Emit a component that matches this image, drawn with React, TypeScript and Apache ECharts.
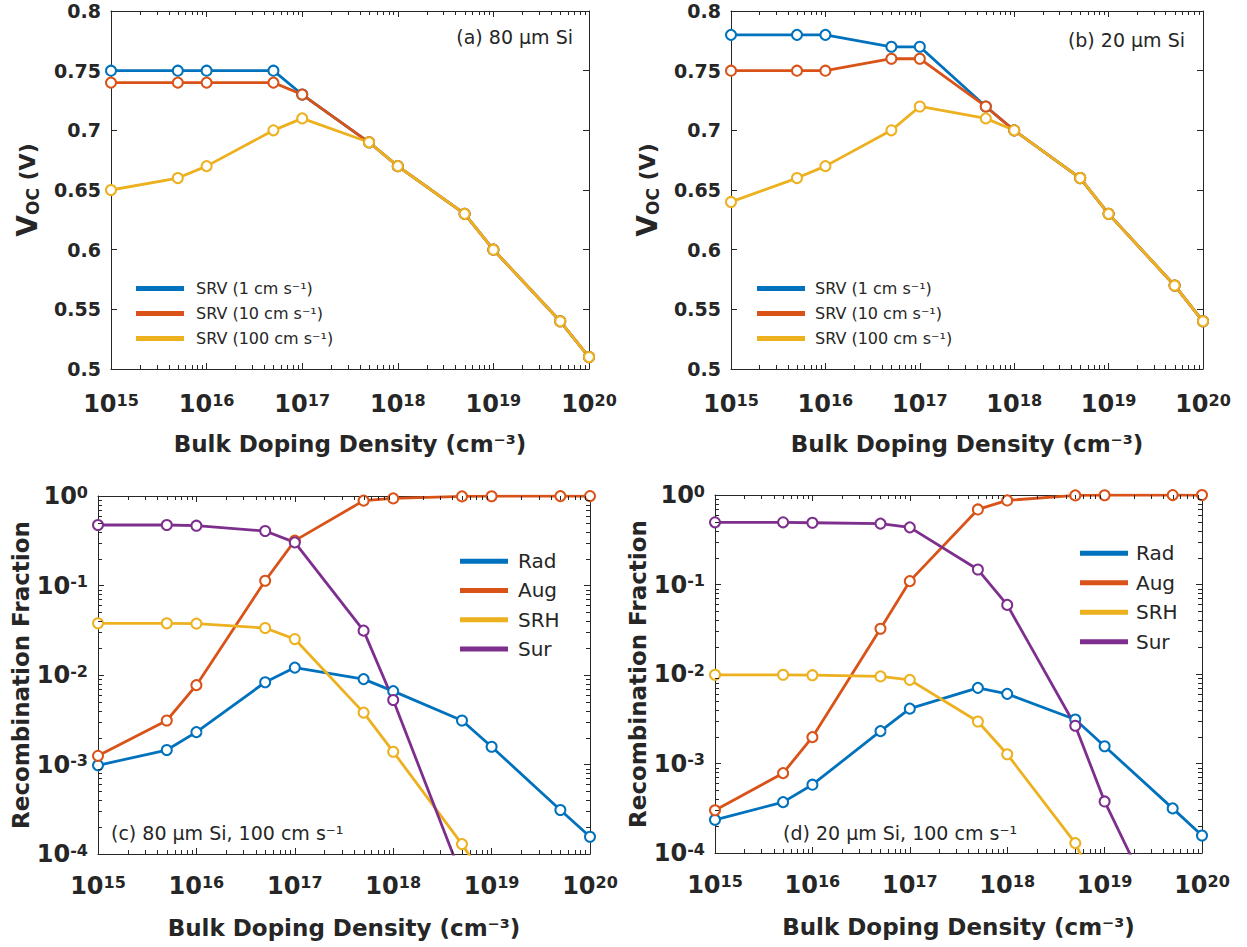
import React, { useEffect, useRef } from "react";
import * as echarts from "echarts";

// ---------- data ----------
const dopingDensity = [1e15, 5e15, 1e16, 5e16, 1e17, 5e17, 1e18, 5e18, 1e19, 5e19, 1e20];

const srvNames = ["SRV (1 cm s⁻¹)", "SRV (10 cm s⁻¹)", "SRV (100 cm s⁻¹)"];
const recNames = ["Rad", "Aug", "SRH", "Sur"];

// (a) 80 µm Si
const vocA_srv1 = [0.75, 0.75, 0.75, 0.75, 0.73, 0.69, 0.67, 0.63, 0.6, 0.54, 0.51];
const vocA_srv10 = [0.74, 0.74, 0.74, 0.74, 0.73, 0.69, 0.67, 0.63, 0.6, 0.54, 0.51];
const vocA_srv100 = [0.65, 0.66, 0.67, 0.7, 0.71, 0.69, 0.67, 0.63, 0.6, 0.54, 0.51];

// (b) 20 µm Si
const vocB_srv1 = [0.78, 0.78, 0.78, 0.77, 0.77, 0.72, 0.7, 0.66, 0.63, 0.57, 0.54];
const vocB_srv10 = [0.75, 0.75, 0.75, 0.76, 0.76, 0.72, 0.7, 0.66, 0.63, 0.57, 0.54];
const vocB_srv100 = [0.64, 0.66, 0.67, 0.7, 0.72, 0.71, 0.7, 0.66, 0.63, 0.57, 0.54];

// (c) 80 µm Si, 100 cm/s
const recC_rad = [9.8e-4, 1.45e-3, 2.3e-3, 8.3e-3, 0.0121, 0.009, 0.0066, 3.1e-3, 1.58e-3, 3.1e-4, 1.56e-4];
const recC_aug = [1.25e-3, 3.1e-3, 7.7e-3, 0.113, 0.317, 0.887, 0.94, 0.99, 0.995, 0.997, 0.998];
const recC_srh = [0.0378, 0.0378, 0.0375, 0.0335, 0.0252, 3.8e-3, 1.39e-3, 1.29e-4, 4.1e-5, null, null];
const recC_sur = [0.474, 0.474, 0.466, 0.406, 0.303, 0.0313, 5.26e-3, 5.5e-5, null, null, null];

// (d) 20 µm Si, 100 cm/s
const recD_rad = [2.35e-4, 3.7e-4, 5.8e-4, 2.3e-3, 4.1e-3, 7.0e-3, 6.0e-3, 3.1e-3, 1.56e-3, 3.15e-4, 1.57e-4];
const recD_aug = [3.0e-4, 7.8e-4, 1.97e-3, 0.032, 0.109, 0.69, 0.87, 0.99, 0.995, 0.998, 0.999];
const recD_srh = [0.0098, 0.0098, 0.0097, 0.0094, 0.0086, 2.95e-3, 1.27e-3, 1.29e-4, 2.6e-5, null, null];
const recD_sur = [0.495, 0.495, 0.49, 0.479, 0.435, 0.147, 0.0592, 2.64e-3, 3.77e-4, 1.0e-5, null];

// axis ticks
const vocTicks = { min: 0.5, max: 0.8, interval: 0.05 };
const xLogRange = { min: 1e15, max: 1e20 };
const yLogRange = { min: 1e-4, max: 1 };
const minorMultipliers = [2, 3, 4, 5, 6, 7, 8, 9];
const xDecades = [15, 16, 17, 18, 19];
const yDecades = [-4, -3, -2, -1];

const annotations = ["(a) 80 µm Si", "(b) 20 µm Si", "(c) 80 µm Si, 100 cm s⁻¹", "(d) 20 µm Si, 100 cm s⁻¹"];

// ---------- style ----------
const COLORS = ["#0072BD", "#D95319", "#EDB120", "#7E2F8E"];
const TXT = "#262626";
const FONT = "'DejaVu Sans', sans-serif";

const grids = [
  { left: 111, top: 11, width: 478, height: 358 },
  { left: 731, top: 11, width: 472, height: 358 },
  { left: 98, top: 496, width: 492, height: 358 },
  { left: 715, top: 495, width: 487, height: 358 },
];

const powRich = {
  b: { fontSize: 24, fontWeight: "bold", fontFamily: FONT, color: TXT },
  s: { fontSize: 16, fontWeight: "bold", fontFamily: FONT, color: TXT, verticalAlign: "top" },
};
const powLabel = (v: number) => `{b|10}{s|${Math.round(Math.log10(v))}}`;

function makeOption() {
  const xAxis: any[] = [];
  const yAxis: any[] = [];
  const series: any[] = [];

  grids.forEach((_, i) => {
    const isVoc = i < 2;
    xAxis.push({
      type: "log",
      logBase: 10,
      gridIndex: i,
      min: xLogRange.min,
      max: xLogRange.max,
      splitNumber: 5,
      position: "bottom",
      axisLine: { show: true, onZero: false, lineStyle: { color: TXT, width: 1 } },
      axisTick: { show: true, inside: true, length: 6, lineStyle: { color: TXT } },
      axisLabel: { margin: isVoc ? 23 : 20, formatter: powLabel, rich: powRich, showMinLabel: true, showMaxLabel: true },
      splitLine: { show: false },
      name: "Bulk Doping Density (cm⁻³)",
      nameLocation: "middle",
      nameGap: isVoc ? 63 : 62,
      nameTextStyle: { fontFamily: FONT, fontWeight: "bold", fontSize: 23, color: TXT },
    });
    xAxis.push({
      type: "log",
      logBase: 10,
      gridIndex: i,
      min: xLogRange.min,
      max: xLogRange.max,
      splitNumber: 5,
      position: "top",
      axisLine: { show: true, onZero: false, lineStyle: { color: TXT, width: 1 } },
      axisTick: { show: true, inside: true, length: 6, lineStyle: { color: TXT } },
      axisLabel: { show: false },
      splitLine: { show: false },
    });
    const yBase: any = isVoc
      ? { type: "value", min: vocTicks.min, max: vocTicks.max, interval: vocTicks.interval }
      : { type: "log", logBase: 10, min: yLogRange.min, max: yLogRange.max, splitNumber: 4 };
    yAxis.push({
      ...yBase,
      gridIndex: i,
      position: "left",
      axisLine: { show: true, onZero: false, lineStyle: { color: TXT, width: 1 } },
      axisTick: { show: true, inside: true, length: 6, lineStyle: { color: TXT } },
      axisLabel: isVoc
        ? {
            margin: 10,
            formatter: (v: number) => String(parseFloat(v.toFixed(2))),
            fontFamily: FONT,
            fontWeight: "bold",
            fontSize: 19,
            color: TXT,
          }
        : { margin: 10, formatter: powLabel, rich: powRich },
      splitLine: { show: false },
      name: isVoc ? "{v|V}{sub|OC}{n| (V)}" : "Recombination Fraction",
      nameLocation: "middle",
      nameGap: isVoc ? 70 : 56,
      nameTextStyle: isVoc
        ? {
            color: TXT,
            rich: {
              v: { fontSize: 28, fontWeight: "bold", fontFamily: FONT, color: TXT },
              sub: { fontSize: 17, fontWeight: "bold", fontFamily: FONT, color: TXT, verticalAlign: "bottom" },
              n: { fontSize: 22, fontWeight: "bold", fontFamily: FONT, color: TXT },
            },
          }
        : { fontFamily: FONT, fontWeight: "bold", fontSize: 23, color: TXT },
    });
    yAxis.push({
      ...yBase,
      gridIndex: i,
      position: "right",
      axisLine: { show: true, onZero: false, lineStyle: { color: TXT, width: 1 } },
      axisTick: { show: true, inside: true, length: 6, lineStyle: { color: TXT } },
      axisLabel: { show: false },
      splitLine: { show: false },
    });

    // minor ticks (decoration) placed through the axes' scales
    const refY = isVoc ? 0.6 : 0.01;
    const minorData: any[] = [];
    xDecades.forEach((d) => minorMultipliers.forEach((m) => minorData.push([m * Math.pow(10, d), refY, 0])));
    if (!isVoc) yDecades.forEach((d) => minorMultipliers.forEach((m) => minorData.push([1e17, m * Math.pow(10, d), 1])));
    series.push({
      type: "custom",
      xAxisIndex: 2 * i,
      yAxisIndex: 2 * i,
      silent: true,
      z: 4,
      clip: false,
      data: minorData,
      renderItem: (params: any, api: any) => {
        const cs = params.coordSys;
        const kind = api.value(2);
        const p = api.coord([api.value(0), api.value(1)]);
        const st = { stroke: TXT, lineWidth: 1 };
        const L = 4;
        if (kind === 0) {
          const x = Math.round(p[0]) + 0.5;
          return {
            type: "group",
            children: [
              { type: "line", shape: { x1: x, y1: cs.y + cs.height, x2: x, y2: cs.y + cs.height - L }, style: st },
              { type: "line", shape: { x1: x, y1: cs.y, x2: x, y2: cs.y + L }, style: st },
            ],
          };
        }
        const y = Math.round(p[1]) + 0.5;
        return {
          type: "group",
          children: [
            { type: "line", shape: { x1: cs.x, y1: y, x2: cs.x + L, y2: y }, style: st },
            { type: "line", shape: { x1: cs.x + cs.width, y1: y, x2: cs.x + cs.width - L, y2: y }, style: st },
          ],
        };
      },
    });
  });

  const lineSeries = (name: string, vals: (number | null)[], gi: number, color: string) => ({
    type: "line",
    name,
    xAxisIndex: 2 * gi,
    yAxisIndex: 2 * gi,
    data: dopingDensity.map((x, j) => [x, vals[j]]),
    symbol: "emptyCircle",
    symbolSize: 10,
    showAllSymbol: true,
    clip: true,
    connectNulls: false,
    lineStyle: { width: 2.8, color },
    itemStyle: { color, borderColor: color, borderWidth: 2.2 },
    emphasis: { disabled: true },
    z: 3,
  });

  [vocA_srv1, vocA_srv10, vocA_srv100].forEach((v, k) => series.push(lineSeries(srvNames[k], v, 0, COLORS[k])));
  [vocB_srv1, vocB_srv10, vocB_srv100].forEach((v, k) => series.push(lineSeries(srvNames[k], v, 1, COLORS[k])));
  [recC_rad, recC_aug, recC_srh, recC_sur].forEach((v, k) => series.push(lineSeries(recNames[k], v, 2, COLORS[k])));
  [recD_rad, recD_aug, recD_srh, recD_sur].forEach((v, k) => series.push(lineSeries(recNames[k], v, 3, COLORS[k])));

  const legendBase = {
    orient: "vertical",
    icon: "rect",
    itemWidth: 46,
    itemHeight: 3,
    padding: 0,
    selectedMode: false,
  };
  const legend = [
    { ...legendBase, left: 136, top: 279, itemGap: 6, data: srvNames,
      textStyle: { fontFamily: FONT, fontSize: 16, color: TXT, lineHeight: 19, padding: [0, 0, 0, 8] } },
    { ...legendBase, left: 757, top: 279, itemGap: 6, data: srvNames,
      textStyle: { fontFamily: FONT, fontSize: 16, color: TXT, lineHeight: 19, padding: [0, 0, 0, 6] } },
    { ...legendBase, left: 460, top: 550, itemGap: 7, data: recNames,
      textStyle: { fontFamily: FONT, fontSize: 20, color: TXT, lineHeight: 22.3, padding: [0, 0, 0, 6] } },
    { ...legendBase, left: 1080, top: 542, itemGap: 7, data: recNames,
      textStyle: { fontFamily: FONT, fontSize: 20, color: TXT, lineHeight: 22.5, padding: [0, 0, 0, 4] } },
  ];

  const annPos = [
    { x: 573, y: 37, align: "right" },
    { x: 1185, y: 40, align: "right" },
    { x: 111, y: 833, align: "left" },
    { x: 783, y: 833, align: "left" },
  ];
  const graphic = annotations.map((t, i) => ({
    type: "text",
    x: annPos[i].x,
    y: annPos[i].y,
    z: 10,
    style: {
      text: t,
      align: annPos[i].align,
      verticalAlign: "middle",
      fontFamily: FONT,
      fontSize: 19,
      fill: TXT,
    },
  }));

  return {
    animation: false,
    backgroundColor: "#ffffff",
    textStyle: { fontFamily: FONT },
    grid: grids.map((g) => ({ ...g, containLabel: false })),
    xAxis,
    yAxis,
    legend,
    graphic,
    series,
  };
}

export default function App() {
  const ref = useRef<HTMLDivElement>(null);
  useEffect(() => {
    if (!ref.current) return;
    const chart = echarts.init(ref.current, undefined, { renderer: "svg" });
    chart.setOption(makeOption() as any);
    return () => chart.dispose();
  }, []);
  return (
    <div
      ref={ref}
      style={{ position: "absolute", left: 0, top: 0, width: 1247, height: 947, background: "#fff" }}
    />
  );
}
